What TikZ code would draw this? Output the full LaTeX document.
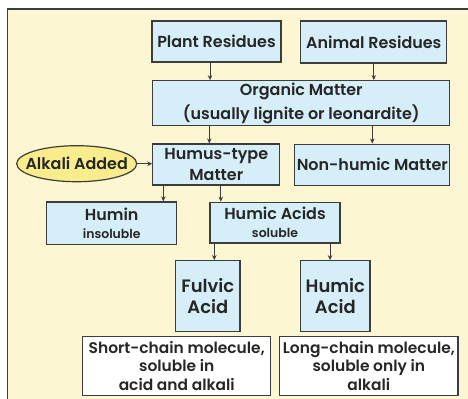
\documentclass[tikz,border=0pt]{standalone}
\usepackage{fontspec}
\setmainfont{Poppins}[BoldFont={Poppins SemiBold}]
\usetikzlibrary{arrows.meta,shapes.geometric}
\definecolor{bgyellow}{HTML}{FDF6D2}
\definecolor{boxblue}{HTML}{D6EEF7}
\definecolor{ovalyellow}{HTML}{F8EC8C}
\definecolor{edgegray}{HTML}{3C3C3C}
\definecolor{inkgray}{HTML}{262626}
\newcommand{\fsz}[2]{\fontsize{#1}{#2}\selectfont}
\begin{document}
\begin{tikzpicture}[x=1bp,y=-1bp,
	box/.style={draw=edgegray,line width=1.2bp,fill=boxblue,inner sep=0pt,align=center,text=inkgray,font=\bfseries\fsz{16}{21}},
	note/.style={box,fill=white},
	arr/.style={draw=edgegray,line width=0.9bp,-{Stealth[length=5bp,width=4.5bp]}}]
	% frame
	\useasboundingbox (0,0) rectangle (468,398);
	\fill[white] (0,0) rectangle (468,398);
	\draw[edgegray,line width=1.5bp,fill=bgyellow] (7.5,9) rectangle (476,406);
	% boxes
	\node[box,minimum width=129bp,minimum height=41bp] (plant) at (216.5,41.5) {Plant Residues};
	\node[box,minimum width=146bp,minimum height=42bp] (animal) at (373.8,42) {Animal Residues};
	\node[box,minimum width=297bp,minimum height=44.6bp,font=\bfseries\fsz{16}{24}] (organic) at (301.3,103) {Organic Matter\\(usually lignite or leonardite)};
	\node[box,minimum width=127bp,minimum height=41bp] (humus) at (216.3,164.5) {Humus-type\\Matter};
	\node[box,minimum width=155bp,minimum height=41bp] (nonhumic) at (372.3,164.6) {Non-humic Matter};
	\node[draw=edgegray,line width=1.2bp,fill=ovalyellow,ellipse,inner xsep=-22bp,inner ysep=0pt,minimum width=120bp,minimum height=36bp,text=inkgray,font=\bfseries\fsz{16}{19}] (alkali) at (76.7,163.7) {Alkali Added};
	\node[box,minimum width=130bp,minimum height=42.7bp] (humin) at (111.7,223.3) {Humin\\[-3bp]{\fsz{12.5}{15}insoluble}};
	\node[box,minimum width=130bp,minimum height=40.7bp] (humicacids) at (275,222.6) {Humic Acids\\[-3bp]{\fsz{12.5}{15}soluble}};
	\node[box,minimum width=64.3bp,minimum height=70.6bp,font=\bfseries\fsz{18}{21}] (fulvic) at (207.8,296) {Fulvic\\Acid};
	\node[box,minimum width=69.3bp,minimum height=70.6bp,font=\bfseries\fsz{18}{21}] (humic) at (335.3,296) {Humic\\Acid};
	\node[note,minimum width=188bp,minimum height=59.4bp,font=\bfseries\fsz{15.5}{18.5}] (short) at (176.7,366) {Short-chain molecule,\\soluble in\\acid and alkali};
	\node[note,minimum width=178.3bp,minimum height=59.4bp,font=\bfseries\fsz{15.5}{18.5}] (long) at (368.8,366) {Long-chain molecule,\\soluble only in\\alkali};
	% arrows
	\draw[arr] ([xshift=-6.5bp]plant.south) -- ([xshift=-6.5bp]plant.south |- organic.north);
	\draw[arr] (animal.south) -- (animal.south |- organic.north);
	\draw[arr] (organic.south -| humus.center) ++(-7bp,0) -- ([xshift=-7bp]humus.north);
	\draw[arr] (organic.south -| nonhumic.center) -- (nonhumic.north);
	\draw[arr] (alkali.east) -- (humus.west |- alkali.east);
	\draw[arr] ([xshift=-53bp]humus.south) -- ([xshift=-53bp]humus.south |- humin.north);
	\draw[arr] ([xshift=4.5bp]humus.south) -- ([xshift=4.5bp]humus.south |- humicacids.north);
	\draw[arr] ([xshift=-60.7bp]humicacids.south) -- ([xshift=-60.7bp]humicacids.south |- fulvic.north);
	\draw[arr] ([xshift=55bp]humicacids.south) -- ([xshift=55bp]humicacids.south |- humic.north);
\end{tikzpicture}
\end{document}
